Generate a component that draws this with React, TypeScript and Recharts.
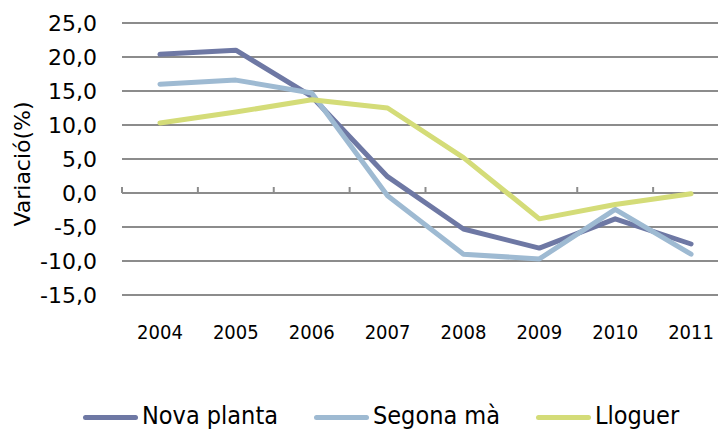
import React from 'react';
import {
  LineChart,
  Line,
  XAxis,
  YAxis,
  CartesianGrid,
  Legend,
  ReferenceLine,
} from 'recharts';

const years = ['2004', '2005', '2006', '2007', '2008', '2009', '2010', '2011'];
const novaPlanta = [20.4, 21.0, 14.2, 2.4, -5.3, -8.1, -3.8, -7.5];
const segonaMa = [16.0, 16.6, 14.7, -0.4, -9.0, -9.7, -2.4, -9.0];
const lloguer = [10.3, 11.9, 13.7, 12.5, 5.2, -3.8, -1.7, -0.1];
const yTicks = [-15, -10, -5, 0, 5, 10, 15, 20, 25];

const seriesNames = ['Nova planta', 'Segona mà', 'Lloguer'];
const seriesColors = ['#6E78A4', '#9EBAD2', '#D4DC78'];

const data = years.map((y, i) => ({
  year: y,
  nova: novaPlanta[i],
  segona: segonaMa[i],
  lloguer: lloguer[i],
}));

const GRID = '#8C8C8C';

const ZeroAxis = (props: any) => {
  const { x1, y1, x2 } = props;
  const n = data.length;
  const step = (x2 - x1) / n;
  const ticks = [];
  for (let k = 0; k <= n; k++) {
    const x = x1 + k * step;
    ticks.push(<line key={k} x1={x} y1={y1} x2={x} y2={y1 - 6} stroke={GRID} strokeWidth={2} />);
  }
  return (
    <g>
      <line x1={x1} y1={y1} x2={x2} y2={y1} stroke={GRID} strokeWidth={2} />
      {ticks}
    </g>
  );
};

const LegendContent = () => (
  <div
    style={{
      display: 'flex',
      alignItems: 'center',
      fontFamily: '"DejaVu Sans Condensed", "DejaVu Sans", sans-serif',
      fontStretch: 'condensed',
      fontSize: 25,
      lineHeight: '30px',
      color: '#000',
      whiteSpace: 'nowrap',
    }}
  >
    {seriesNames.map((name, i) => (
      <div key={name} style={{ display: 'flex', alignItems: 'center', marginRight: 36 }}>
        <div
          style={{
            width: 55,
            height: 5,
            borderRadius: 3,
            background: seriesColors[i],
            marginRight: 4,
            marginTop: 2,
          }}
        />
        <span>{name}</span>
      </div>
    ))}
  </div>
);

const YLabel = (props: any) => {
  const vb = props.viewBox || { x: 0, y: 0, width: 0, height: 0 };
  const cx = 22;
  const cy = vb.y + vb.height / 2 + 5;
  return (
    <text
      x={cx}
      y={cy}
      transform={`rotate(-90 ${cx} ${cy})`}
      textAnchor="middle"
      dominantBaseline="central"
      fontFamily='"DejaVu Sans", sans-serif'
      fontSize={22}
      fill="#000"
    >
      Variació(%)
    </text>
  );
};

export default function App() {
  return (
    <div
      style={{
        position: 'fixed',
        top: 0,
        left: 0,
        width: 718,
        height: 430,
        overflow: 'hidden',
        background: '#fff',
      }}
    >
      <LineChart
        width={740}
        height={430}
        data={data}
        margin={{ top: 23, right: 11, bottom: 95, left: 0 }}
      >
        <CartesianGrid horizontal vertical={false} stroke={GRID} strokeWidth={2} />
        <XAxis
          dataKey="year"
          scale="band"
          axisLine={false}
          tickLine={false}
          tickSize={0}
          tickMargin={30}
          height={40}
          interval={0}
          tick={{
            fill: '#000',
            fontSize: 20,
            fontFamily: '"DejaVu Sans Condensed", "DejaVu Sans", sans-serif',
            style: { fontStretch: 'condensed' },
          }}
        />
        <YAxis
          domain={[-15, 25]}
          ticks={yTicks}
          width={122}
          axisLine={false}
          tickLine={false}
          tickSize={0}
          tickMargin={25}
          tickFormatter={(v: number) => v.toFixed(1).replace('.', ',')}
          tick={{ fill: '#000', fontSize: 22, fontFamily: '"DejaVu Sans", sans-serif' }}
          label={<YLabel />}
        />
        <ReferenceLine y={0} shape={<ZeroAxis />} />
        <Line
          type="linear"
          dataKey="nova"
          name={seriesNames[0]}
          stroke={seriesColors[0]}
          strokeWidth={5}
          dot={false}
          strokeLinecap="round"
          strokeLinejoin="round"
          isAnimationActive={false}
        />
        <Line
          type="linear"
          dataKey="segona"
          name={seriesNames[1]}
          stroke={seriesColors[1]}
          strokeWidth={5}
          dot={false}
          strokeLinecap="round"
          strokeLinejoin="round"
          isAnimationActive={false}
        />
        <Line
          type="linear"
          dataKey="lloguer"
          name={seriesNames[2]}
          stroke={seriesColors[2]}
          strokeWidth={5}
          dot={false}
          strokeLinecap="round"
          strokeLinejoin="round"
          isAnimationActive={false}
        />
        <Legend
          layout="horizontal"
          verticalAlign="middle"
          align="center"
          content={<LegendContent />}
          wrapperStyle={{ position: 'absolute', left: 83, top: 401, width: 640 }}
        />
      </LineChart>
    </div>
  );
}
